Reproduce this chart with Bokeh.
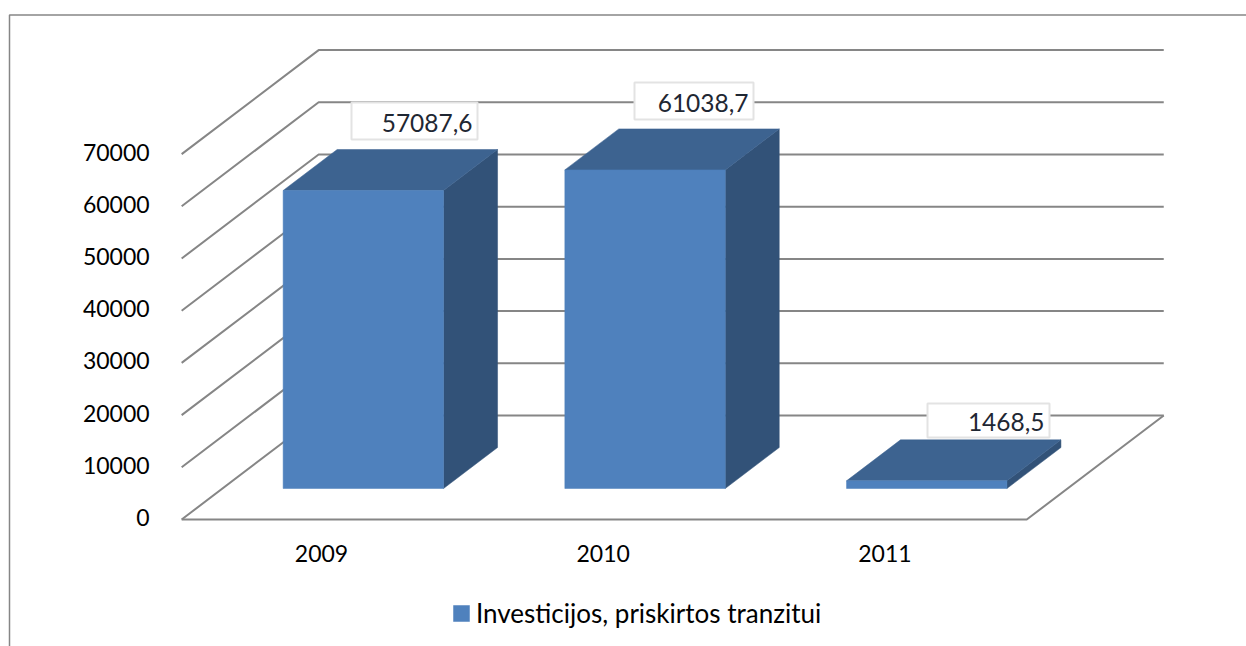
from bokeh.embed import file_html
from bokeh.resources import INLINE
from bokeh.plotting import figure
from bokeh.models import LinearAxis, FixedTicker, Range1d, Legend, LegendItem
from bokeh.core.properties import value

categories = ["2009", "2010", "2011"]
series_name = "Investicijos, priskirtos tranzitui"
investments = [57087.6, 61038.7, 1468.5]
value_labels = ["57087,6", "61038,7", "1468,5"]
y_ticks = [0, 10000, 20000, 30000, 40000, 50000, 60000, 70000]

FRONT, TOP, SIDE = "#4F81BD", "#3D6390", "#325278"
GRID = "#868686"
FONT = "Lato"
W, H = 1246, 646
PX_X, PX_Y = 281.7, 0.00522          # px per category / px per value
X0_PX, Y0_PX = 322.0, 519.0          # page position of category 0 / value 0
x_of = lambda px: (px - X0_PX) / PX_X
y_of = lambda py: (Y0_PX - py) / PX_Y
dx_floor, dy_floor = 137 / PX_X, 104 / PX_Y   # full depth of the chart box
bar_half = 80.2 / PX_X
d_front, d_back = 31 / 104, 72 / 104

p = figure(width=W, height=H, output_backend="svg", toolbar_location=None,
           x_range=Range1d(x_of(0), x_of(W)), y_range=Range1d(y_of(H), y_of(0)),
           x_axis_type=None, y_axis_type=None, min_border=0, outline_line_color=None)
p.xgrid.visible = False
p.ygrid.visible = False
# tick labels sit 2px above their gridline ends, 1px left of the category centre
p.extra_y_ranges["labels"] = Range1d(y_of(H + 2), y_of(2))
p.extra_x_ranges["labels"] = Range1d(x_of(1), x_of(W + 1))

# chart-area frame
p.line([x_of(9), x_of(9), x_of(W)], [y_of(H), y_of(14.5), y_of(14.5)], line_color=GRID, line_width=1.5)

# walls: one receding + back line per tick
xs, ys = [], []
for t in y_ticks:
    xs.append([-0.5, -0.5 + dx_floor, 2.5 + dx_floor])
    ys.append([t, t + dy_floor, t + dy_floor])
p.multi_line(xs, ys, line_color=GRID, line_width=2)
# floor front and right edges
p.line([-0.5, 2.5, 2.5 + dx_floor], [0, 0, dy_floor], line_color=GRID, line_width=2)

# 3D bars
front_r = None
for i, v in enumerate(investments):
    l = i + d_front * dx_floor - bar_half
    r = l + 2 * bar_half
    b = d_front * dy_floor
    t = b + v
    ddx = (d_back - d_front) * dx_floor
    ddy = (d_back - d_front) * dy_floor
    p.patch([r, r + ddx, r + ddx, r], [b, b + ddy, t + ddy, t], fill_color=SIDE, line_color=SIDE, line_width=0.5)
    p.patch([l, l + ddx, r + ddx, r], [t, t + ddy, t + ddy, t], fill_color=TOP, line_color=TOP, line_width=0.5)
    q = p.quad(left=[l], right=[r], bottom=[b], top=[t], fill_color=FRONT, line_color=FRONT, line_width=0.5)
    front_r = front_r or q

# data labels: box edges in page pixels of the reference
boxes = [(351, 477, 102, 139), (634, 753, 82, 119), (927, 1049, 403, 437)]
for (x1, x2, y1, y2), lab in zip(boxes, value_labels):
    p.quad(left=[x_of(x1)], right=[x_of(x2)], top=[y_of(y1)], bottom=[y_of(y2)],
           fill_color="white", line_color="#E3E3E3", line_width=2)
    p.text([x_of(x2 - 5)], [y_of((y1 + y2) / 2 + 1.5)], text=[lab], text_align="right", text_baseline="middle",
           text_font=value(FONT), text_font_size="24.5px", text_color="#1F2733")

# axes
ya = LinearAxis(ticker=FixedTicker(ticks=y_ticks), fixed_location=-0.5, y_range_name="labels",
                axis_line_color=None, major_tick_line_color=None, minor_tick_line_color=None,
                major_label_standoff=26, major_label_text_font=FONT, major_label_text_font_size="23px",
                major_label_text_color="#000000")
p.add_layout(ya, "left")
xa = LinearAxis(ticker=FixedTicker(ticks=[0, 1, 2]), fixed_location=0, x_range_name="labels",
                major_label_overrides={i: c for i, c in enumerate(categories)},
                axis_line_color=None, major_tick_line_color=None, minor_tick_line_color=None,
                major_label_standoff=19, major_label_text_font=FONT, major_label_text_font_size="23px",
                major_label_text_color="#000000")
p.add_layout(xa, "below")

legend = Legend(items=[LegendItem(label=series_name, renderers=[front_r])],
                location=(451, 17), orientation="horizontal", border_line_color=None,
                background_fill_alpha=0, glyph_width=20, glyph_height=20, label_standoff=5,
                label_text_font=FONT, label_text_font_size="26px", label_text_color="#000000",
                margin=0, padding=4)
p.add_layout(legend, "center")

open("out.html", "w").write(file_html(p, INLINE))
